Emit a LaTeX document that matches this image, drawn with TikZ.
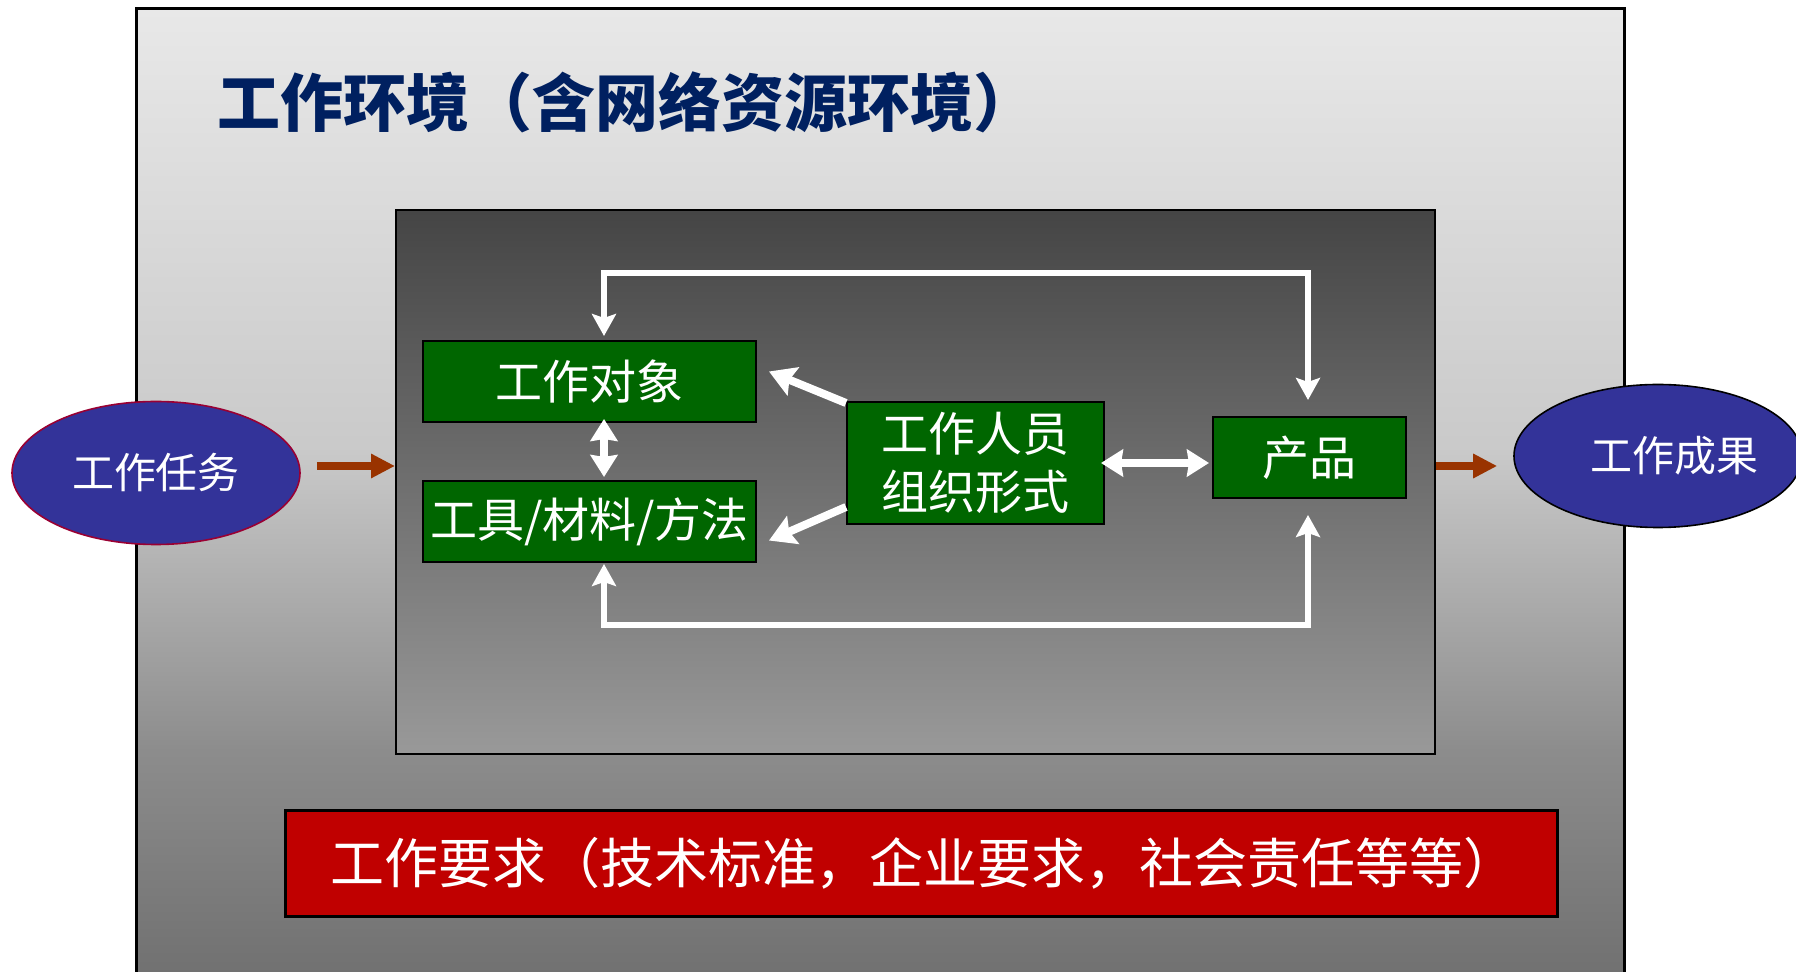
\documentclass[tikz,border=0pt]{standalone}
\usepackage{fontspec}
\newfontfamily\cjk{Noto Sans CJK SC}
\usetikzlibrary{arrows.meta,shapes.geometric}
\definecolor{navy}{HTML}{002060}
\definecolor{boxgreen}{HTML}{006600}
\definecolor{ovalblue}{HTML}{333399}
\definecolor{ovalrim}{HTML}{990033}
\definecolor{reqred}{HTML}{C00000}
\definecolor{rust}{HTML}{993300}

\begin{document}
\begin{tikzpicture}[x=0.5pt, y=-0.5pt,
	box/.style={rectangle, draw=black, line width=1pt, fill=boxgreen, text=white, inner sep=0pt, align=center, font=\cjk\fontsize{23.5}{29}\selectfont},
	oval/.style={ellipse, fill=ovalblue, line width=0.8pt, text=white, inner sep=0pt, minimum width=144pt, minimum height=71.5pt, font=\cjk\fontsize{21}{25}\selectfont},
	feed/.style={rust, line width=4pt, -{Triangle[length=12pt, width=11.5pt]}},
	wire/.style={white, line width=3pt, {Stealth[length=11pt, width=12pt, inset=2pt]}-{Stealth[length=11pt, width=12pt, inset=2pt]}},
	twin/.style={white, line width=4pt, {Stealth[length=11pt, width=13.5pt, inset=1pt]}-{Stealth[length=11pt, width=13.5pt, inset=1pt]}},
	push/.style={white, line width=4pt, -{Stealth[length=13pt, width=15pt, inset=2pt]}}]
		\useasboundingbox (0,0) rectangle (1796,972);

		% working environment
		\shade[top color=black!9, bottom color=black!21] (136,9) rectangle (1624,451);
		\shade[top color=black!21, bottom color=black!45] (136,450) rectangle (1624,751);
		\shade[top color=black!45, bottom color=black!56] (136,750) rectangle (1624,980);
		\draw[line width=1.5pt] (136,980) -- (136,9) -- (1624,9) -- (1624,980);

		\node (title)[anchor=west, inner sep=0pt, text=navy, font=\cjk\bfseries\fontsize{31.5}{36}\selectfont] at (217,102){工作环境（含网络资源环境）};

		\node (stage)[draw=black, line width=1pt, top color=black!73, bottom color=black!40, minimum width=519.5pt, minimum height=272pt, inner sep=0pt] at (915.5,482){};

		\node (obj)[box, minimum width=166.5pt, minimum height=40.5pt] at (589.5,381.5){工作对象};
		\node (tool)[box, minimum width=166.5pt, minimum height=40.5pt] at (589.5,521.5){工具/材料/方法};
		\node (staff)[box, minimum width=128.5pt, minimum height=61pt] at (975.5,463){工作人员\\组织形式};
		\node (prod)[box, minimum width=96.5pt, minimum height=40.5pt] at (1309.5,457.5){产品};

		\node (task)[oval, draw=ovalrim] at (156,473){工作任务};
		\node (result)[oval, draw=black] at (1658,456){\hspace*{16pt}工作成果};

		\node (req)[rectangle, draw=black, line width=1.5pt, fill=reqred, text=white, minimum width=636pt, minimum height=53pt, inner sep=0pt, font=\cjk\fontsize{27}{31}\selectfont] at (921,863.5){\hspace*{3pt}工作要求（技术标准，企业要求，社会责任等等）};

		\coordinate (nw) at (604,273);
		\coordinate (ne) at (1308,273);
		\coordinate (sw) at (604,625);
		\coordinate (se) at (1308,625);

		\draw [feed]([xshift=8pt,yshift=3.5pt]task.east) -- ([yshift=3.5pt]task.east -| stage.west);
		\draw [feed, shorten >=8pt]([yshift=8pt]stage.east) -- ([yshift=8pt]stage.east -| result.west);

		\draw [wire, shorten <=2pt, shorten >=8pt](obj.north -| nw) -- (nw) -- (ne) -- (prod.north -| ne);
		\draw [wire, shorten <=0.5pt, shorten >=8pt](tool.south -| sw) -- (sw) -- (se) -- (prod.south -| se);
		\draw [twin, shorten <=-2pt, shorten >=1.5pt](obj.south -| nw) -- (tool.north -| nw);
		\draw [twin, line width=4.2pt, shorten <=-2pt, shorten >=1.5pt](staff.east) -- (staff.east -| prod.west);
		\draw [push]([yshift=-1pt]staff.north west) -- ([xshift=6pt,yshift=5pt]obj.east);
		\draw [push]([yshift=9pt]staff.south west) -- ([xshift=6pt,yshift=-9.5pt]tool.east);
	\end{tikzpicture}
\end{document}
